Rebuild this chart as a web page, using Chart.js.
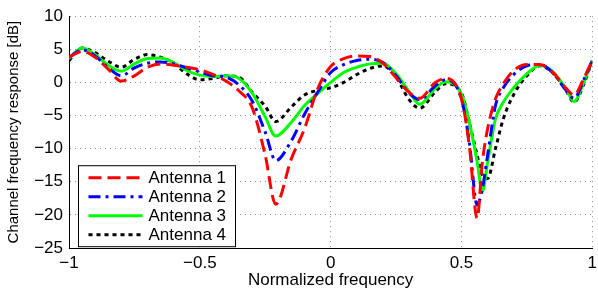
<!DOCTYPE html>
<html>
<head>
<meta charset="utf-8">
<script src="https://cdn.jsdelivr.net/npm/chart.js@4.4.1/dist/chart.umd.min.js"></script>
<style>
  html, body { margin: 0; padding: 0; background: #fff; overflow: hidden; }
  canvas { display: block; }
</style>
</head>
<body>
<canvas id="myChart" width="602" height="292"></canvas>
<script>
// Data
const freq = [-1, -0.95, -0.9, -0.85, -0.8, -0.75, -0.7, -0.65, -0.6, -0.55, -0.5, -0.45, -0.4, -0.35, -0.3, -0.25, -0.21, -0.15, -0.1, -0.05,
    0, 0.05, 0.1, 0.15, 0.2, 0.25, 0.3, 0.34, 0.4, 0.44, 0.5, 0.53, 0.56, 0.58, 0.6, 0.63, 0.66, 0.7, 0.75, 0.8, 0.85, 0.9, 0.93, 0.97, 1];

const antenna1 = [3.8, 4.7, 3.8, 2.0, 0.2, 1.0, 2.3, 2.8, 2.6, 2.3, 1.9, 1.2, 0.2, -1.3, -3.8, -11.0, -18.4, -11.5, -7.0, -1.0,
    2.4, 3.6, 4.0, 3.9, 2.9, 0.7, -1.5, -2.4, 0.0, 0.6, -2.5, -9.5, -20.5, -12, -7, -2.5, -0.2, 1.8, 2.7, 2.7, 1.5, -0.9, -1.9, 0.8, 3.3];

const antenna2 = [3.8, 4.9, 4.0, 2.2, 1.0, 2.2, 2.9, 3.1, 2.8, 2.2, 1.6, 1.0, 0.8, -0.4, -2.8, -7.5, -11.8, -8.8, -4.8, -1.5,
    1.5, 2.7, 3.3, 3.5, 3.0, 1.0, -1.6, -2.6, -0.5, 0.4, -2.5, -9, -18.5, -16, -11, -3.5, -0.8, 1.2, 2.5, 2.7, 1.4, -1.2, -2.4, 0.6, 3.3];

const antenna3 = [3.6, 5.2, 4.2, 2.6, 1.7, 2.8, 3.6, 3.7, 3.0, 1.8, 1.1, 0.9, 1.0, 0.6, -1.6, -5.2, -8.1, -6.0, -3.5, -1.7,
    0.0, 1.5, 2.3, 2.8, 2.9, 1.3, -1.4, -3.3, -0.9, 0.1, -1.8, -6, -12, -16.5, -12, -5.5, -3.0, -0.8, 1.3, 2.6, 1.6, -1.0, -2.9, 0.3, 3.3];

const antenna4 = [3.3, 5.2, 4.5, 3.2, 2.3, 3.5, 4.2, 3.8, 2.9, 1.3, 0.4, 0.6, 1.0, 0.8, -1.5, -3.6, -5.9, -3.7, -1.9, -1.2,
    -0.8, 0.0, 1.2, 2.1, 2.5, 0.8, -2.6, -3.9, -1.4, -0.2, -1.6, -6, -11, -14, -14.5, -10, -5.5, -1.8, 1.0, 2.5, 1.4, -1.2, -3.0, 0.0, 3.3];

const seriesNames = ['Antenna 1', 'Antenna 2', 'Antenna 3', 'Antenna 4'];
const xTicks = [-1, -0.5, 0, 0.5, 1];
const yTicks = [10, 5, 0, -5, -10, -15, -20, -25];

function toPoints(values) {
    return freq.map((f, i) => ({ x: f, y: values[i] }));
}

function minusSign(v) {
    return v < 0 ? '\u2212' + Math.abs(v) : String(v);
}

Chart.defaults.font.family = '"Liberation Sans", Arial, sans-serif';
Chart.defaults.color = '#000';

const styles = [
    { color: '#ff0000', dash: [13, 6] },
    { color: '#0000ff', dash: [12, 5, 3, 5] },
    { color: '#00ff00', dash: [] },
    { color: '#000000', dash: [4, 4] }
];

// legend drawn inside the plot area, like the MATLAB figure
const boxLegend = {
    id: 'boxLegend',
    afterDraw(chart) {
        const ctx = chart.ctx;
        const area = chart.chartArea;
        const left = area.left + 9.5;
        const top = area.top + 149.5;
        ctx.save();
        ctx.fillStyle = '#fff';
        ctx.fillRect(left, top, 157, 81);
        ctx.strokeStyle = '#000';
        ctx.lineWidth = 1;
        ctx.setLineDash([]);
        ctx.strokeRect(left, top, 157, 81);
        ctx.font = '17px "Liberation Sans", Arial, sans-serif';
        ctx.textBaseline = 'middle';
        chart.data.datasets.forEach((ds, i) => {
            const y = top + 12 + i * 19;
            ctx.beginPath();
            ctx.strokeStyle = ds.borderColor;
            ctx.lineWidth = 3;
            ctx.setLineDash(ds.borderDash);
            ctx.moveTo(left + 10, y);
            ctx.lineTo(left + 64, y);
            ctx.stroke();
            ctx.setLineDash([]);
            ctx.fillStyle = '#000';
            ctx.fillText(ds.label, left + 70, y + 1);
        });
        ctx.restore();
    }
};

const datasets = [antenna1, antenna2, antenna3, antenna4].map((values, i) => ({
    label: seriesNames[i],
    data: toPoints(values),
    borderColor: styles[i].color,
    borderDash: styles[i].dash,
    borderWidth: 3,
    pointRadius: 0,
    fill: false,
    cubicInterpolationMode: 'monotone'
}));

const ctx = document.getElementById('myChart').getContext('2d');
const myChart = new Chart(ctx, {
    type: 'line',
    data: { datasets },
    plugins: [boxLegend],
    options: {
        responsive: false,
        animation: false,
        layout: { padding: { top: 11, right: 5, left: 0, bottom: 0 } },
        plugins: {
            legend: { display: false },
            tooltip: { enabled: false }
        },
        scales: {
            x: {
                type: 'linear',
                min: -1,
                max: 1,
                afterBuildTicks(scale) {
                    scale.ticks = xTicks.map(v => ({ value: v }));
                },
                afterFit(scale) { scale.height = 44; },
                ticks: {
                    padding: 5,
                    maxRotation: 0,
                    font: { size: 17 },
                    callback: v => minusSign(v)
                },
                grid: {
                    drawTicks: false,
                    color: '#888',
                    lineWidth: 1
                },
                border: { display: true, color: '#000', width: 1, dash: [1, 4] },
                title: {
                    display: true,
                    text: 'Normalized frequency',
                    font: { size: 17 },
                    padding: { top: 0, bottom: 1 }
                }
            },
            y: {
                min: -25,
                max: 10,
                afterBuildTicks(scale) {
                    scale.ticks = yTicks.map(v => ({ value: v }));
                },
                afterFit(scale) { scale.width = 69; },
                ticks: {
                    padding: 6,
                    font: { size: 17 },
                    callback: v => minusSign(v)
                },
                grid: {
                    drawTicks: false,
                    color: '#888',
                    lineWidth: 1
                },
                border: { display: true, color: '#000', width: 1, dash: [1, 4] },
                title: {
                    display: true,
                    text: 'Channel frequency response [dB]',
                    font: { size: 15 },
                    padding: { top: 5, bottom: 0 }
                }
            }
        }
    }
});
</script>
</body>
</html>
